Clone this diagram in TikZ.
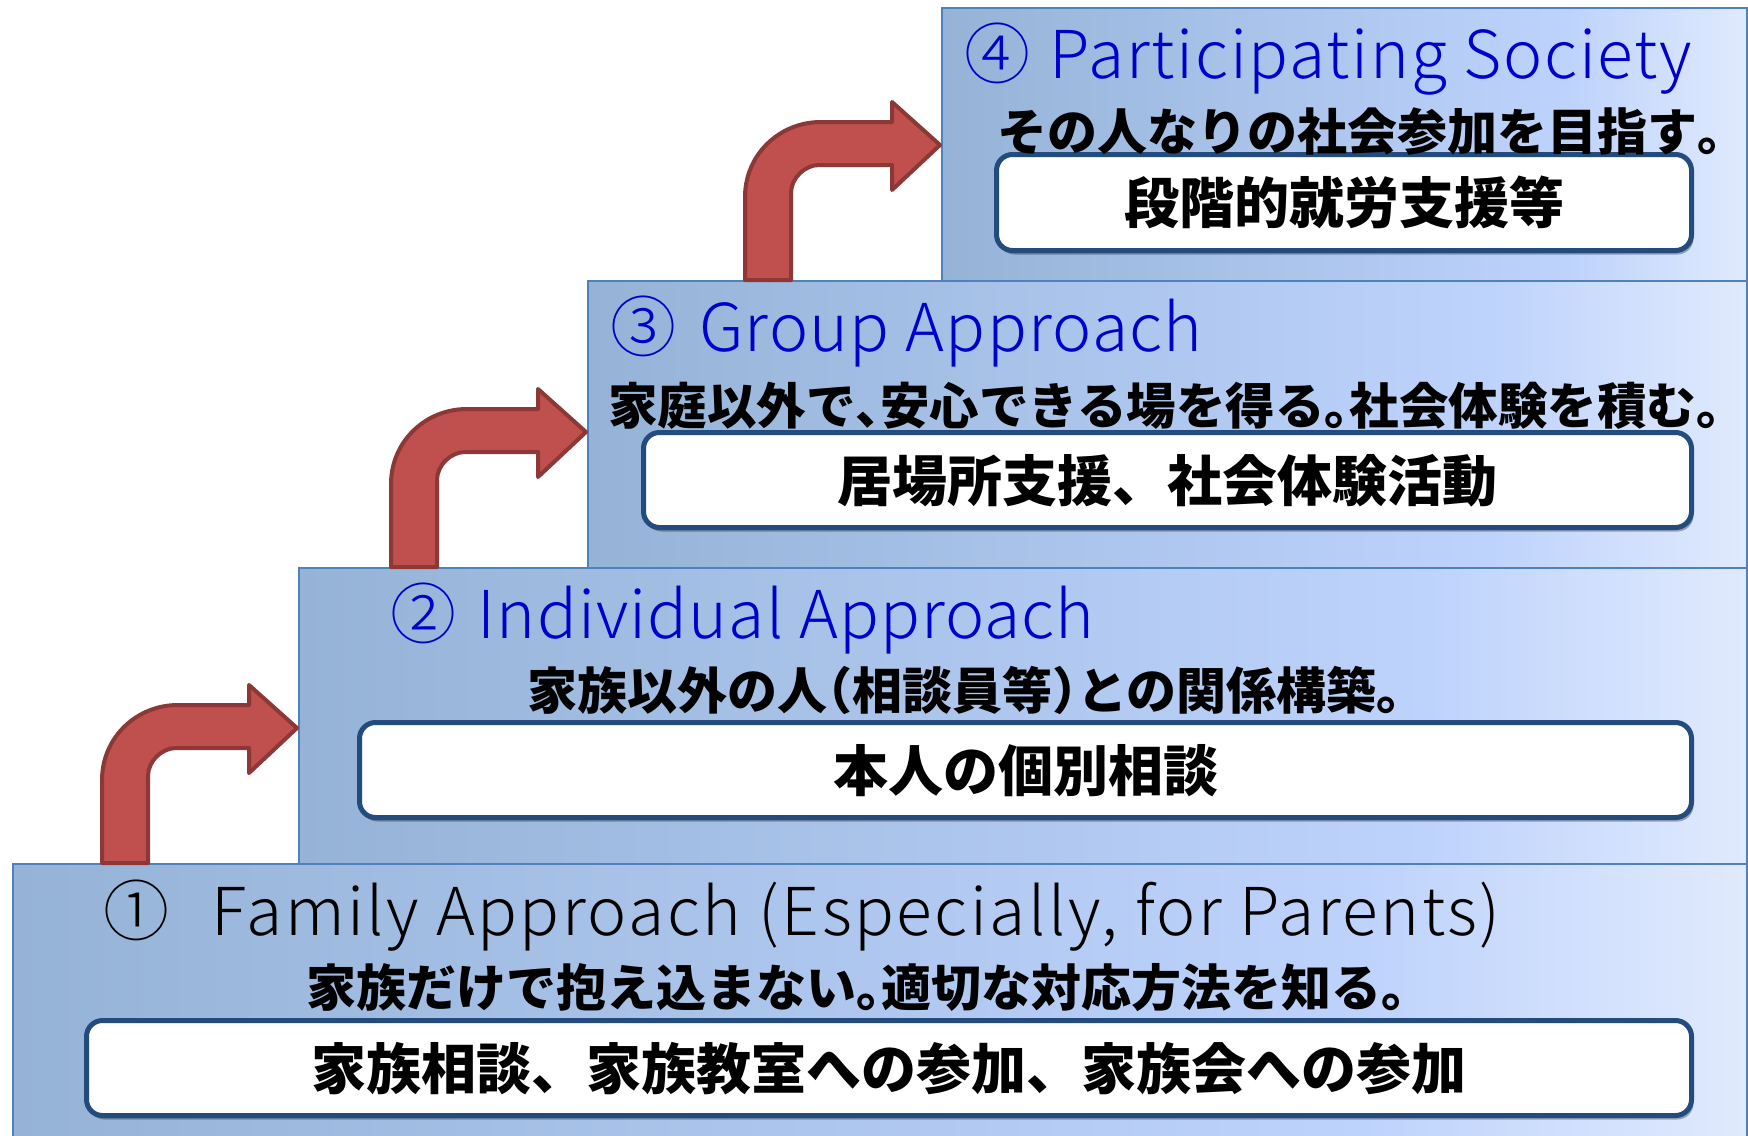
\documentclass[tikz,border=0pt]{standalone}
\usepackage{fontspec}
\usetikzlibrary{shadows,calc}
\newfontfamily\jp{Noto Sans CJK JP}
\IfFontExistsTF{Noto Sans CJK JP Light}{\newfontfamily\jplt{Noto Sans CJK JP Light}}{\newfontfamily\jplt{Noto Sans CJK JP}}
\definecolor{sA}{RGB}{149,179,215}
\definecolor{sB}{RGB}{190,211,252}
\definecolor{sC}{RGB}{224,234,253}
\definecolor{sLine}{RGB}{79,129,189}
\definecolor{bLine}{RGB}{35,75,125}
\definecolor{aFill}{RGB}{192,80,77}
\definecolor{aLine}{RGB}{140,56,54}
\definecolor{tBlue}{RGB}{0,0,204}
\pgfdeclarehorizontalshading{stepshade}{100bp}{color(0bp)=(sA); color(25bp)=(sA); color(64bp)=(sB); color(75bp)=(sC); color(100bp)=(sC)}
% half-width punctuation
\newcommand\hp[1]{{\addfontfeature{CharacterWidth=AlternateHalf}#1}}
\tikzset{
  stepbox/.style={draw=sLine, line width=2pt, shading=stepshade, anchor=north west, inner sep=0pt, outer sep=0pt},
  whitebox/.style={draw=bLine, line width=5pt, fill=white, rounded corners=16pt, inner sep=0pt,
    drop shadow={shadow xshift=2pt, shadow yshift=-4pt, opacity=0.3, fill=black},
    font=\jp\bfseries\fontsize{55}{60}\selectfont, text height=46pt, text depth=4pt},
  subline/.style={anchor=base west, inner sep=0pt, font=\jp\bfseries\fontsize{50}{54}\selectfont},
  titleline/.style={anchor=base west, inner sep=0pt, text=tBlue, font=\jplt\fontsize{66}{70}\selectfont},
  arrowshape/.style={fill=aFill, draw=aLine, line width=4pt, line join=round}
}
\newcommand\bentarrow[1]{%
  \draw[arrowshape, shift={(#1)}] (-197,52) .. controls (-197,10) and (-163,-23) .. (-121,-23)
    -- (-50,-23) -- (-50,-43) -- (-2,0) -- (-50,45) -- (-50,20) -- (-123,20)
    .. controls (-137,20) and (-151,33) .. (-151,48) -- (-151,135) -- (-197,135) -- cycle;}
\begin{document}
\begin{tikzpicture}[x=1pt,y=-1pt]
\useasboundingbox (0,0) rectangle (1748,1135);
\clip (0,0) rectangle (1748,1135);
% steps
\node[stepbox, minimum width=805pt, minimum height=273pt] (s4) at (942,8) {};
\node[stepbox, minimum width=1159pt, minimum height=287pt] (s3) at (588,281) {};
\node[stepbox, minimum width=1448pt, minimum height=296pt] (s2) at (299,568) {};
\node[stepbox, minimum width=1734pt, minimum height=300pt] (s1) at (13,864) {};
% arrows (connectors between steps)
\coordinate (t1) at ($(s2.west |- s1.north) + (0,-136)$);
\coordinate (t2) at ($(s3.west |- s2.north) + (0,-136)$);
\coordinate (t3) at ($(s4.west |- s3.north) + (0,-136)$);
\bentarrow{t1}
\bentarrow{t2}
\bentarrow{t3}
% white boxes
\node[whitebox, minimum width=1605pt, minimum height=95pt] (b1) at (889,1068) {家族相談、家族教室への参加、家族会への参加};
\node[whitebox, minimum width=1332pt, minimum height=95pt] (b2) at (1025.5,770) {本人の個別相談};
\node[whitebox, minimum width=1048pt, minimum height=95pt] (b3) at (1167.5,480) {居場所支援、社会体験活動};
\node[whitebox, minimum width=695pt, minimum height=96pt] (b4) at (1344,202.5) {段階的就労支援等};
% subtitles
\node[subline] (u1) at (306,1006) {家族だけで抱え込まない\hp{。}適切な対応方法を知る\hp{。}};
\node[subline] (u2) at (527,709) {家族以外の人\hp{（}相談員等\hp{）}との関係構築\hp{。}};
\node[subline, font=\jp\bfseries\fontsize{49.5}{54}\selectfont] (u3) at (608,424) {家庭以外で\hp{、}安心できる場を得る\hp{。}社会体験を積む\hp{。}};
\node[subline] (u4) at (997,150) {その人なりの社会参加を目指す\hp{。}};
% titles
\node[titleline, text=black] (h1) at (103,935) {\addfontfeature{LetterSpace=3.8}①\hspace{42pt}Family Approach (Especially, for Parents)};
\node[titleline] (h2) at (390,638) {\addfontfeature{LetterSpace=1.7}② \hspace{6pt}Individual Approach};
\node[titleline] (h3) at (610,351) {\addfontfeature{LetterSpace=2.0}③ \hspace{7pt}Group Approach};
\node[titleline] (h4) at (964,78) {\addfontfeature{LetterSpace=2.7}④ \hspace{3pt}Participating Society};
\end{tikzpicture}
\end{document}
